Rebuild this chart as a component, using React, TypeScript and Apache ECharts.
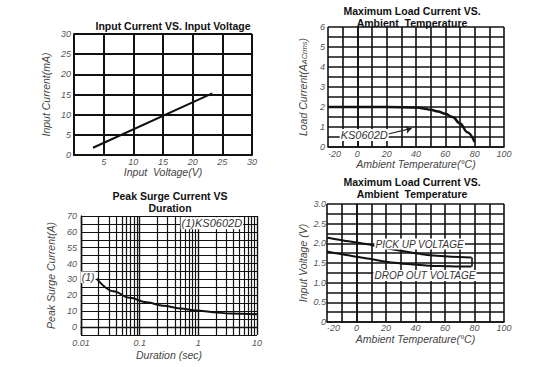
import React, { useEffect, useRef } from 'react';
import * as echarts from 'echarts';

const FONT = '"Liberation Sans", Arial, Helvetica, sans-serif';

// Chart 1: Input Current vs Input Voltage
const inputVoltage = [3.2, 23.3];
const inputCurrent = [1.8, 15.3];

// Chart 2: Maximum Load Current vs Ambient Temperature
const loadTemp = [-20, 0, 20, 40, 45, 50, 55, 60, 65, 70, 75, 80];
const loadCurrent = [2, 2, 2, 1.98, 1.93, 1.86, 1.77, 1.66, 1.5, 1.18, 0.74, 0.25];

// Chart 3: Peak Surge Current vs Duration
const surgeDuration = [0.0185, 0.0355, 0.068, 0.132, 0.253, 0.486, 0.935, 1.79, 3.46, 10];
const surgeCurrent = [30.6, 22.6, 18.4, 15.6, 13.5, 11.7, 10.4, 9.4, 8.5, 8.1];
const surgeYTickValues = [0, 10, 20, 30, 40, 50, 60, 70];
const surgeYTickLabels = ['0', '10', '20', '30', '40', '55', '60', '70'];
const surgeMinorGrid = [
  0.02, 0.03, 0.04, 0.05, 0.06, 0.07, 0.08, 0.09,
  0.2, 0.3, 0.4, 0.5, 0.6, 0.7, 0.8, 0.9,
  2, 3, 4, 5, 6, 7, 8, 9,
];

// Chart 4: Pick up / Drop out voltage vs Ambient Temperature
const voltTemp = [-20, -10, 0, 10, 20, 30, 40, 50, 60, 70, 78];
const pickUpVoltage = [2.15, 2.08, 2.02, 1.96, 1.88, 1.81, 1.75, 1.7, 1.67, 1.65, 1.64];
const dropOutVoltage = [1.79, 1.72, 1.66, 1.6, 1.53, 1.49, 1.46, 1.43, 1.42, 1.41, 1.41];

// Annotations: [gridIndex, x, y, text, fontSize]
const annotations: [number, number, number, string, number][] = [
  [1, 4.7, 0.6, 'KS0602D', 11],
  [2, 1.7, 65.4, '(1)KS0602D', 11],
  [2, 0.0132, 31.4, '(1)', 10.5],
  [3, 42.8, 1.98, 'PICK UP VOLTAGE', 10],
  [3, 46.4, 1.18, 'DROP OUT VOLTAGE', 10],
];

const zip = (xs: number[], ys: number[]) => xs.map((x, i) => [x, ys[i]]);

const labelStyle = { color: '#555', fontStyle: 'italic', fontSize: 9, fontFamily: FONT };
const nameStyle = { color: '#444', fontStyle: 'italic', fontSize: 10.5, fontFamily: FONT };
const split = (w: number) => ({ show: true, lineStyle: { color: '#111', width: w } });
const axLine = (w: number) => ({ show: true, lineStyle: { color: '#111', width: w } });

const titleText = (text: string, x: number, y: number) => ({
  type: 'text',
  x,
  y,
  z: 100,
  style: {
    text,
    fill: '#111',
    font: `bold 10.5px ${FONT}`,
    align: 'center',
    verticalAlign: 'middle',
  },
});

const measure = (text: string, font: string) => {
  const c = document.createElement('canvas').getContext('2d');
  if (!c) return text.length * 6;
  c.font = font;
  return c.measureText(text).width;
};

export default function App() {
  const ref = useRef<HTMLDivElement>(null);
  useEffect(() => {
    document.body.style.margin = '0';
    const chart = echarts.init(ref.current!, null, { renderer: 'svg' });
    const tempLabel = (v: number) => (v % 20 === 0 ? String(v) : '');
    const titles = [
      titleText('Input Current VS. Input Voltage', 173, 26),
      titleText('Maximum Load Current VS.', 412, 11),
      titleText('Ambient  Temperature', 412, 23),
      titleText('Peak Surge Current VS', 170, 196),
      titleText('Duration', 170, 208),
      titleText('Maximum Load Current VS.', 412, 182),
      titleText('Ambient  Temperature', 412, 194),
    ];
    chart.setOption({
      animation: false,
      backgroundColor: '#fff',
      grid: [
        { left: 74, top: 34, width: 178, height: 121 },
        { left: 328, top: 27, width: 176, height: 120 },
        { left: 81, top: 216, width: 176, height: 119 },
        { left: 327, top: 204, width: 177, height: 118 },
      ],
      graphic: titles,
      xAxis: [
        {
          gridIndex: 0, type: 'value', min: 0, max: 30, interval: 5,
          axisLine: axLine(2), axisTick: { show: false }, splitLine: split(2),
          axisLabel: { ...labelStyle, margin: 2, formatter: (v: number) => (v === 0 ? '' : String(v)) },
          name: 'Input  Voltage(V)', nameLocation: 'middle', nameGap: 9, nameTextStyle: nameStyle,
        },
        {
          gridIndex: 1, type: 'value', min: -20, max: 100, interval: 10,
          axisLine: axLine(1.6), axisTick: { show: false }, splitLine: split(1.6),
          axisLabel: { ...labelStyle, margin: 2, formatter: tempLabel, alignMinLabel: 'left' },
          name: 'Ambient Temperature(°C)', nameLocation: 'middle', nameGap: 10, nameTextStyle: nameStyle,
        },
        {
          gridIndex: 2, type: 'log', logBase: 10, min: 0.01, max: 10,
          axisLine: axLine(1.4), axisTick: { show: false }, splitLine: split(1.4),
          axisLabel: { ...labelStyle, margin: 3, formatter: (v: number) => String(v) },
          name: 'Duration (sec)', nameLocation: 'middle', nameGap: 14, nameTextStyle: nameStyle,
        },
        {
          gridIndex: 3, type: 'value', min: -20, max: 100, interval: 10,
          axisLine: axLine(1.6), axisTick: { show: false }, splitLine: split(1.6),
          axisLabel: { ...labelStyle, margin: 1, formatter: tempLabel, alignMinLabel: 'left' },
          name: 'Ambient Temperature(°C)', nameLocation: 'middle', nameGap: 11, nameTextStyle: nameStyle,
        },
      ],
      yAxis: [
        {
          gridIndex: 0, type: 'value', min: 0, max: 30, interval: 5,
          axisLine: axLine(2), axisTick: { show: false }, splitLine: split(2),
          axisLabel: { ...labelStyle, margin: 3 },
          name: 'Input Current(mA)', nameLocation: 'middle', nameGap: 23, nameTextStyle: nameStyle,
        },
        {
          gridIndex: 1, type: 'value', min: 0, max: 6, interval: 0.5,
          axisLine: axLine(1.6), axisTick: { show: false }, splitLine: split(1.6),
          axisLabel: { ...labelStyle, margin: 3, formatter: (v: number) => (v % 1 === 0 ? String(v) : '') },
          name: '{a|Load Current(A}{b|ACrms}{a|)}', nameLocation: 'middle', nameGap: 20,
          nameTextStyle: {
            ...nameStyle,
            rich: {
              a: { ...nameStyle },
              b: { ...nameStyle, fontSize: 7.5, padding: [3, 0, 0, 0] },
            },
          },
        },
        {
          gridIndex: 2, type: 'value', min: -5, max: 70, interval: 5,
          axisLine: axLine(1.4), axisTick: { show: false }, splitLine: split(1.2),
          axisLabel: {
            ...labelStyle, margin: 4,
            formatter: (v: number) => {
              const i = surgeYTickValues.indexOf(v);
              return i >= 0 ? surgeYTickLabels[i] : '';
            },
          },
          name: 'Peak Surge Current(A)', nameLocation: 'middle', nameGap: 25, nameTextStyle: nameStyle,
        },
        {
          gridIndex: 3, type: 'value', min: 0, max: 3, interval: 0.25,
          axisLine: axLine(1.6), axisTick: { show: false }, splitLine: split(1.6),
          axisLabel: {
            ...labelStyle, margin: 1,
            formatter: (v: number) => (v % 0.5 === 0 ? (v === 0 ? '0' : v.toFixed(1)) : ''),
          },
          name: 'Input Voltage (V)', nameLocation: 'middle', nameGap: 19, nameTextStyle: nameStyle,
        },
      ],
      series: [
        {
          type: 'line', xAxisIndex: 0, yAxisIndex: 0, symbol: 'none', z: 10,
          lineStyle: { color: '#111', width: 2 },
          data: zip(inputVoltage, inputCurrent),
        },
        {
          type: 'line', xAxisIndex: 1, yAxisIndex: 1, symbol: 'none', z: 10,
          smooth: 0.4, smoothMonotone: 'x',
          lineStyle: { color: '#111', width: 2.5 },
          data: zip(loadTemp, loadCurrent),
          markLine: {
            silent: true, symbol: ['none', 'arrow'], symbolSize: 6,
            label: { show: false },
            lineStyle: { color: '#222', width: 1.2, type: 'solid' },
            data: [[{ coord: [21, 0.65] }, { coord: [37, 0.93] }]],
          },
        },
        {
          type: 'line', xAxisIndex: 2, yAxisIndex: 2, symbol: 'none', z: 10,
          smooth: 0.4, smoothMonotone: 'x',
          lineStyle: { color: '#111', width: 2 },
          data: zip(surgeDuration, surgeCurrent),
          markLine: {
            silent: true, symbol: ['none', 'none'],
            label: { show: false },
            lineStyle: { color: '#111', width: 1.2, type: 'solid' },
            data: surgeMinorGrid.map((v) => ({ xAxis: v })),
          },
        },
        {
          type: 'line', xAxisIndex: 3, yAxisIndex: 3, symbol: 'none', z: 10,
          smooth: 0.3,
          lineStyle: { color: '#111', width: 2 },
          data: zip(voltTemp, pickUpVoltage),
        },
        {
          type: 'line', xAxisIndex: 3, yAxisIndex: 3, symbol: 'none', z: 10,
          smooth: 0.3,
          lineStyle: { color: '#111', width: 2 },
          data: zip(voltTemp, dropOutVoltage),
          markLine: {
            silent: true, symbol: ['none', 'none'],
            label: { show: false },
            lineStyle: { color: '#111', width: 1.6, type: 'solid' },
            data: [[
              { coord: [voltTemp[voltTemp.length - 1], dropOutVoltage[dropOutVoltage.length - 1]] },
              { coord: [voltTemp[voltTemp.length - 1], pickUpVoltage[pickUpVoltage.length - 1]] },
            ]],
          },
        },
      ],
    });

    const annotGraphics: any[] = [];
    annotations.forEach(([g, x, y, text, size]) => {
      const p = chart.convertToPixel({ xAxisIndex: g, yAxisIndex: g }, [x, y]) as number[];
      if (!p) return;
      const font = `italic ${size}px ${FONT}`;
      const w = measure(text, font) + 2;
      const h = size + 1;
      annotGraphics.push({
        type: 'rect',
        z: 200,
        shape: { x: p[0] - w / 2, y: p[1] - h / 2, width: w, height: h },
        style: { fill: '#fff' },
      });
      annotGraphics.push({
        type: 'text',
        z: 201,
        x: p[0],
        y: p[1],
        style: { text, font, fill: '#333', align: 'center', verticalAlign: 'middle' },
      });
    });
    chart.setOption({ graphic: [...titles, ...annotGraphics] });
    return () => chart.dispose();
  }, []);
  return <div ref={ref} style={{ width: 550, height: 367 }} />;
}
